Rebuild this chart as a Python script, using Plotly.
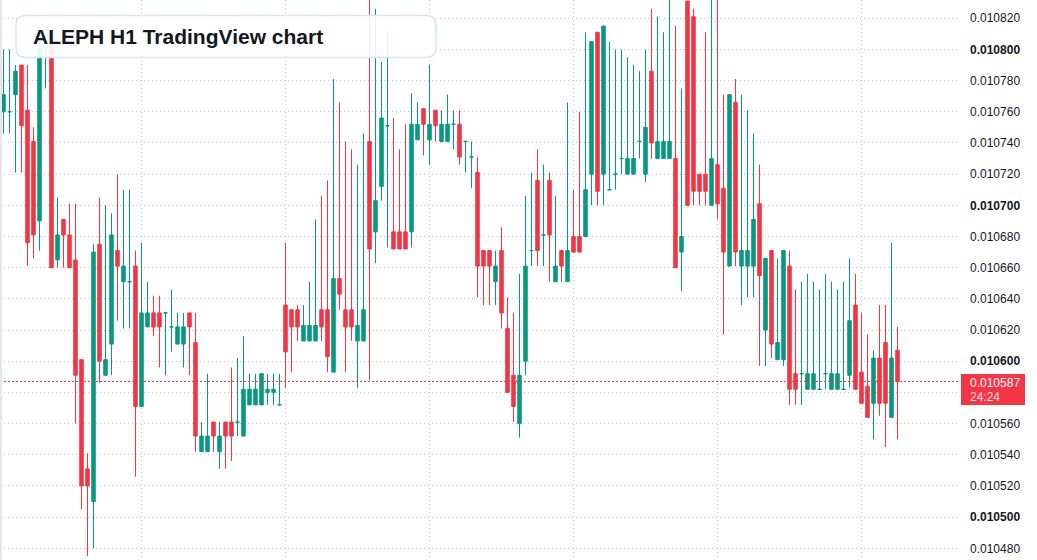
import numpy as np
import pandas as pd
import plotly.graph_objects as go

# ---- data (ALEPH H1 candles) ----
opens = [0.010760, 0.010760, 0.010771, 0.010790, 0.010761, 0.010741, 0.010690, 0.010801, 0.010804, 0.010665,
         0.010691, 0.010681, 0.010665, 0.010601, 0.010531, 0.010510, 0.010675, 0.010591, 0.010611, 0.010671,
         0.010651, 0.010651, 0.010661, 0.010571, 0.010622, 0.010631, 0.010631, 0.010631, 0.010622, 0.010611,
         0.010611, 0.010631, 0.010612, 0.010542, 0.010542, 0.010561, 0.010542, 0.010561, 0.010561, 0.010561,
         0.010552, 0.010572, 0.010572, 0.010572, 0.010580, 0.010580, 0.010572, 0.010636, 0.010633, 0.010633,
         0.010613, 0.010613, 0.010613, 0.010633, 0.010633, 0.010593, 0.010653, 0.010633, 0.010633, 0.010613,
         0.010613, 0.010741, 0.010683, 0.010712, 0.010751, 0.010683, 0.010683, 0.010683, 0.010683, 0.010742,
         0.010762, 0.010742, 0.010761, 0.010741, 0.010741, 0.010752, 0.010752, 0.010741, 0.010731, 0.010721,
         0.010671, 0.010671, 0.010651, 0.010671, 0.010621, 0.010591, 0.010560, 0.010600, 0.010671, 0.010716,
         0.010681, 0.010716, 0.010651, 0.010671, 0.010651, 0.010680, 0.010680, 0.010680, 0.010720, 0.010811,
         0.010720, 0.010710, 0.010720, 0.010730, 0.010720, 0.010720, 0.010741, 0.010720, 0.010786, 0.010730,
         0.010730, 0.010730, 0.010730, 0.010670, 0.010831, 0.010821, 0.010720, 0.010720, 0.010700, 0.010726,
         0.010711, 0.010661, 0.010766, 0.010661, 0.010661, 0.010661, 0.010701, 0.010620, 0.010671, 0.010601,
         0.010601, 0.010661, 0.010592, 0.010592, 0.010582, 0.010582, 0.010582, 0.010592, 0.010582, 0.010582,
         0.010582, 0.010591, 0.010636, 0.010593, 0.010584, 0.010573, 0.010602, 0.010612, 0.010564, 0.010607]
highs = [0.010800, 0.010800, 0.010790, 0.010790, 0.010790, 0.010750, 0.010806, 0.010806, 0.010806, 0.010705,
         0.010691, 0.010701, 0.010701, 0.010601, 0.010541, 0.010675, 0.010705, 0.010700, 0.010695, 0.010720,
         0.010710, 0.010710, 0.010671, 0.010676, 0.010651, 0.010642, 0.010642, 0.010631, 0.010646, 0.010631,
         0.010631, 0.010631, 0.010631, 0.010561, 0.010592, 0.010561, 0.010561, 0.010561, 0.010596, 0.010602,
         0.010616, 0.010592, 0.010592, 0.010592, 0.010592, 0.010592, 0.010592, 0.010676, 0.010633, 0.010636,
         0.010636, 0.010651, 0.010691, 0.010706, 0.010716, 0.010781, 0.010766, 0.010741, 0.010736, 0.010726,
         0.010746, 0.010840, 0.010826, 0.010792, 0.010812, 0.010756, 0.010736, 0.010752, 0.010772, 0.010766,
         0.010762, 0.010790, 0.010761, 0.010761, 0.010771, 0.010761, 0.010761, 0.010741, 0.010741, 0.010731,
         0.010671, 0.010671, 0.010671, 0.010686, 0.010641, 0.010631, 0.010656, 0.010706, 0.010721, 0.010736,
         0.010726, 0.010721, 0.010706, 0.010671, 0.010766, 0.010710, 0.010760, 0.010811, 0.010805, 0.010811,
         0.010815, 0.010805, 0.010800, 0.010800, 0.010795, 0.010790, 0.010786, 0.010800, 0.010826, 0.010821,
         0.010811, 0.010840, 0.010815, 0.010775, 0.010831, 0.010826, 0.010720, 0.010811, 0.010840, 0.010840,
         0.010771, 0.010771, 0.010781, 0.010771, 0.010761, 0.010746, 0.010726, 0.010666, 0.010671, 0.010666,
         0.010671, 0.010671, 0.010646, 0.010651, 0.010656, 0.010651, 0.010646, 0.010656, 0.010651, 0.010646,
         0.010651, 0.010666, 0.010656, 0.010631, 0.010617, 0.010607, 0.010636, 0.010636, 0.010676, 0.010622]
lows = [0.010746, 0.010746, 0.010721, 0.010721, 0.010661, 0.010666, 0.010671, 0.010775, 0.010660, 0.010660,
        0.010660, 0.010660, 0.010560, 0.010505, 0.010475, 0.010480, 0.010586, 0.010591, 0.010591, 0.010626,
        0.010621, 0.010621, 0.010526, 0.010571, 0.010622, 0.010616, 0.010596, 0.010591, 0.010606, 0.010611,
        0.010596, 0.010591, 0.010542, 0.010542, 0.010542, 0.010542, 0.010531, 0.010531, 0.010536, 0.010552,
        0.010552, 0.010572, 0.010572, 0.010572, 0.010572, 0.010572, 0.010572, 0.010583, 0.010593, 0.010613,
        0.010613, 0.010613, 0.010613, 0.010613, 0.010593, 0.010593, 0.010633, 0.010593, 0.010613, 0.010583,
        0.010613, 0.010588, 0.010663, 0.010703, 0.010673, 0.010672, 0.010672, 0.010672, 0.010673, 0.010742,
        0.010732, 0.010726, 0.010741, 0.010741, 0.010741, 0.010736, 0.010726, 0.010721, 0.010711, 0.010641,
        0.010636, 0.010636, 0.010636, 0.010621, 0.010580, 0.010561, 0.010551, 0.010591, 0.010661, 0.010661,
        0.010661, 0.010651, 0.010651, 0.010651, 0.010651, 0.010670, 0.010670, 0.010680, 0.010700, 0.010700,
        0.010700, 0.010710, 0.010710, 0.010720, 0.010720, 0.010720, 0.010730, 0.010715, 0.010730, 0.010730,
        0.010730, 0.010730, 0.010660, 0.010645, 0.010700, 0.010700, 0.010700, 0.010700, 0.010700, 0.010691,
        0.010617, 0.010661, 0.010661, 0.010636, 0.010641, 0.010641, 0.010597, 0.010597, 0.010602, 0.010601,
        0.010597, 0.010572, 0.010572, 0.010572, 0.010582, 0.010582, 0.010582, 0.010582, 0.010582, 0.010582,
        0.010582, 0.010583, 0.010582, 0.010573, 0.010564, 0.010550, 0.010565, 0.010545, 0.010564, 0.010550]
closes = [0.010771, 0.010760, 0.010786, 0.010751, 0.010676, 0.010681, 0.010801, 0.010802, 0.010660, 0.010681,
          0.010681, 0.010660, 0.010591, 0.010520, 0.010520, 0.010670, 0.010600, 0.010601, 0.010681, 0.010661,
          0.010661, 0.010651, 0.010571, 0.010631, 0.010631, 0.010622, 0.010622, 0.010631, 0.010622, 0.010622,
          0.010622, 0.010622, 0.010552, 0.010552, 0.010552, 0.010552, 0.010552, 0.010552, 0.010552, 0.010561,
          0.010582, 0.010582, 0.010582, 0.010592, 0.010582, 0.010582, 0.010572, 0.010606, 0.010622, 0.010622,
          0.010623, 0.010623, 0.010623, 0.010622, 0.010603, 0.010653, 0.010643, 0.010622, 0.010622, 0.010623,
          0.010633, 0.010672, 0.010703, 0.010756, 0.010751, 0.010672, 0.010672, 0.010672, 0.010752, 0.010752,
          0.010752, 0.010752, 0.010751, 0.010752, 0.010752, 0.010752, 0.010731, 0.010741, 0.010731, 0.010661,
          0.010661, 0.010661, 0.010661, 0.010631, 0.010580, 0.010571, 0.010591, 0.010661, 0.010671, 0.010671,
          0.010681, 0.010681, 0.010661, 0.010661, 0.010671, 0.010670, 0.010670, 0.010710, 0.010805, 0.010709,
          0.010815, 0.010710, 0.010720, 0.010730, 0.010730, 0.010730, 0.010741, 0.010750, 0.010740, 0.010741,
          0.010741, 0.010741, 0.010660, 0.010680, 0.010700, 0.010709, 0.010709, 0.010709, 0.010730, 0.010701,
          0.010670, 0.010771, 0.010670, 0.010671, 0.010671, 0.010691, 0.010655, 0.010666, 0.010611, 0.010612,
          0.010671, 0.010582, 0.010582, 0.010592, 0.010592, 0.010592, 0.010582, 0.010592, 0.010592, 0.010592,
          0.010582, 0.010626, 0.010582, 0.010573, 0.010564, 0.010602, 0.010573, 0.010573, 0.010602, 0.010587]

times = pd.date_range("2024-03-01 01:00", periods=len(opens), freq="h")

y_ticks = [0.010480, 0.010500, 0.010520, 0.010540, 0.010560, 0.010580, 0.010600, 0.010620, 0.010640,
           0.010660, 0.010680, 0.010700, 0.010720, 0.010740, 0.010760, 0.010780, 0.010800, 0.010820]
y_tick_text = ["0.010480", "<b>0.010500</b>", "0.010520", "0.010540", "0.010560", "", "<b>0.010600</b>",
               "0.010620", "0.010640", "0.010660", "0.010680", "<b>0.010700</b>", "0.010720", "0.010740",
               "0.010760", "0.010780", "<b>0.010800</b>", "0.010820"]

last_price = 0.010587
last_label = "0.010587"
countdown = "24:24"
title_text = "ALEPH H1 TradingView chart"

UP = "#089981"
DOWN = "#f23645"

o = np.array(opens); h = np.array(highs); l = np.array(lows); c = np.array(closes)
t = np.array(times)
up = c >= o
dn = ~up

W, H = 1037, 560
PW = 960  # plot width in px

x0 = times[0] - pd.Timedelta(minutes=35)
x1 = times[0] + pd.Timedelta(minutes=int(159.4167 * 60))

fig = go.Figure()

# last price line (drawn as a trace beneath the candles' overlay elements)
fig.add_trace(go.Scatter(x=[x0, x1], y=[last_price, last_price], mode="lines",
                         line=dict(color=DOWN, width=1, dash="2px,2px"),
                         showlegend=False, hoverinfo="skip"))

for mask, col in ((up, UP), (dn, DOWN)):
    fig.add_trace(go.Candlestick(
        x=t[mask], open=o[mask], high=h[mask], low=l[mask], close=c[mask],
        increasing=dict(line=dict(color=col, width=1), fillcolor=col),
        decreasing=dict(line=dict(color=col, width=1), fillcolor=col),
        whiskerwidth=0, showlegend=False, hoverinfo="skip"))

GRID = "#c8c8c8"
fig.update_layout(
    width=W, height=H,
    margin=dict(l=0, r=W - PW, t=0, b=0),
    paper_bgcolor="white", plot_bgcolor="white",
    boxgap=0.3, boxgroupgap=0.17,
    font=dict(family="Liberation Sans, Arial, sans-serif", color="#131722", size=12),
    xaxis=dict(
        range=[x0, x1], rangeslider=dict(visible=False), showticklabels=False,
        showgrid=True, gridcolor=GRID, griddash="1px,3px", gridwidth=1,
        tickmode="linear", tick0="2024-03-01 00:00", dtick=86400000,
        zeroline=False, showline=False, ticks=""),
    yaxis=dict(
        side="right", range=[0.0104725, 0.0108317],
        tickmode="array", tickvals=y_ticks, ticktext=y_tick_text,
        showgrid=True, gridcolor=GRID, griddash="1px,3px", gridwidth=1,
        zeroline=False, showline=False, ticks="", ticklabelstandoff=9,
        tickfont=dict(size=12, color="#131722")),
)

# left thin border strip
fig.add_shape(type="rect", xref="paper", yref="paper", x0=0, x1=2 / PW, y0=0, y1=1,
              fillcolor="#e6e6e6", line=dict(width=0), layer="above")

# title box (rounded)
bx0, bx1 = 16 / PW, 436 / PW
byt, byb = 1 - 15.5 / H, 1 - 57.5 / H
rx, ry = 10 / PW, 10 / H
path = (f"M {bx0+rx},{byt} L {bx1-rx},{byt} Q {bx1},{byt} {bx1},{byt-ry} "
        f"L {bx1},{byb+ry} Q {bx1},{byb} {bx1-rx},{byb} L {bx0+rx},{byb} "
        f"Q {bx0},{byb} {bx0},{byb+ry} L {bx0},{byt-ry} Q {bx0},{byt} {bx0+rx},{byt} Z")
fig.add_shape(type="path", xref="paper", yref="paper", path=path,
              fillcolor="rgba(255,255,255,0.9)", line=dict(color="#d6e4f8", width=1.5), layer="above")
fig.add_annotation(xref="paper", yref="paper", x=31 / PW, y=1 - 37 / H, xanchor="left", yanchor="middle",
                   text=f"<b>{title_text}</b>", showarrow=False,
                   font=dict(size=21, color="#131722", family="Liberation Sans, Arial, sans-serif"))

# last price label on the axis
lx0, lx1 = 961 / PW, 1025 / PW
ly0, ly1 = 1 - 405 / H, 1 - 374 / H
fig.add_shape(type="rect", xref="paper", yref="paper", x0=lx0, x1=lx1, y0=ly0, y1=ly1,
              fillcolor=DOWN, line=dict(width=0), layer="above")
fig.add_annotation(xref="paper", yref="paper", x=968 / PW, y=1 - 382.5 / H, xanchor="left", yanchor="middle",
                   text=last_label, showarrow=False, font=dict(size=12, color="white"))
fig.add_annotation(xref="paper", yref="paper", x=968 / PW, y=1 - 396.5 / H, xanchor="left", yanchor="middle",
                   text=countdown, showarrow=False, font=dict(size=12, color="rgba(255,255,255,0.85)"))

fig.write_html("out.html")
